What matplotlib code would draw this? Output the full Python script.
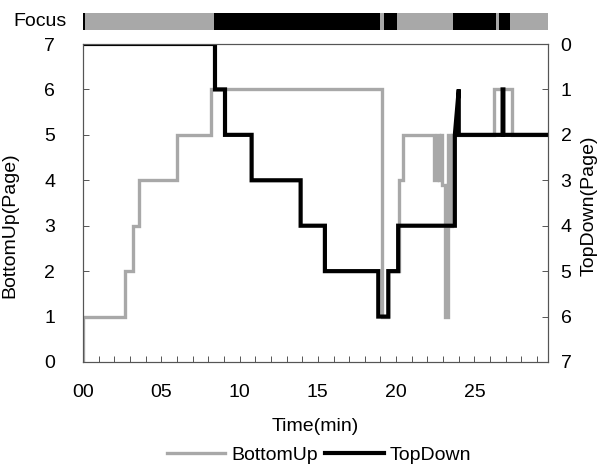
import matplotlib
matplotlib.use("Agg")
import matplotlib.pyplot as plt
from matplotlib.ticker import MultipleLocator, FuncFormatter

plt.rcParams['font.family'] = ['Liberation Sans', 'DejaVu Sans']

# ---- data ----
bu_time = [0, 0, 2.68, 2.68, 3.17, 3.17, 3.6, 3.6, 5.98, 5.98, 8.2, 8.2, 19.07, 19.07,
           19.45, 19.45, 20.2, 20.2, 20.45, 20.45, 22.45, 22.45, 22.6, 22.6, 22.75, 22.75,
           22.85, 22.85, 22.95, 22.95, 23.1, 23.1, 23.3, 23.3, 23.45, 23.45, 23.6, 23.6,
           26.25, 26.25, 27.4, 27.4, 29.7]
bu_page = [0, 1, 1, 2, 2, 3, 3, 4, 4, 5, 5, 6, 6, 1,
           1, 2, 2, 4, 4, 5, 5, 4, 4, 5, 5, 4,
           4, 5, 5, 3.9, 3.9, 1, 1, 5, 5, 3, 3, 5,
           5, 6, 6, 5, 5]

td_time = [0, 8.43, 8.43, 9.07, 9.07, 10.77, 10.77, 13.9, 13.9, 15.45, 15.45, 18.86,
           18.86, 19.5, 19.5, 20.13, 20.13, 23.75, 23.75, 24.0, 24.0, 26.8, 26.8, 26.85,
           26.85, 29.7]
td_page = [0, 0, 1, 1, 2, 2, 3, 3, 4, 4, 5, 5,
           6, 6, 5, 5, 4, 4, 2, 1, 2, 2, 1, 1,
           2, 2]

focus_start = [0, 0.15, 8.37, 18.97, 19.22, 20.07, 23.64, 26.4, 26.56, 27.27]
focus_end = [0.15, 8.37, 18.97, 19.22, 20.07, 23.64, 26.4, 26.56, 27.27, 29.7]
focus_on = [1, 0, 1, 0, 1, 0, 1, 0, 1, 0]

y_ticks = [0, 1, 2, 3, 4, 5, 6, 7]
x_major = [0, 5, 10, 15, 20, 25]

GRAY = '#a8a8a8'
FS = 14

fig = plt.figure(figsize=(6.02, 4.65), dpi=100)
L, R = 83 / 602, 548 / 602
B, T = 1 - 362 / 465, 1 - 44 / 465
ax = fig.add_axes([L, B, R - L, T - B])
ax2 = ax.twinx()

ax.plot(bu_time, bu_page, color=GRAY, lw=2.4, solid_joinstyle='miter', label='BottomUp')
ax2.plot(td_time, td_page, color='black', lw=3.0, solid_joinstyle='miter', label='TopDown')

ax.set_xlim(0, 29.7)
ax.set_ylim(0, 7)
ax2.set_ylim(7, 0)
ax.set_yticks(y_ticks)
ax2.set_yticks(y_ticks)
ax.set_xticks(x_major)
ax.xaxis.set_minor_locator(MultipleLocator(1))
ax.xaxis.set_major_formatter(FuncFormatter(lambda v, p: f"{int(round(v)):02d}"))

for a in (ax, ax2):
    for s in a.spines.values():
        s.set_color('#555555')
        s.set_linewidth(0.8)

ax.tick_params(axis='x', which='both', direction='in', length=4, width=0.7,
               color='#555555', labelsize=FS, pad=16)
ax.tick_params(axis='y', direction='in', length=4, width=0.7, color='#555555',
               labelsize=FS, pad=20)
ax2.tick_params(axis='y', direction='in', length=4, width=0.7, color='#555555',
                labelsize=FS, pad=9)

ax.set_xlabel('Time(min)', fontsize=FS)
ax.xaxis.set_label_coords(0.5, -0.175)
ax.set_ylabel('BottomUp(Page)', fontsize=FS)
ax.yaxis.set_label_coords(-0.14, 0.43)
ax2.set_ylabel('TopDown(Page)', fontsize=FS, rotation=90)
ax2.yaxis.set_label_coords(1.07, 0.49)

# focus bar
fax = fig.add_axes([L, 1 - 30 / 465, R - L, (30 - 13.3) / 465])
fax.set_xlim(0, 29.7)
fax.set_ylim(0, 1)
for s, e, on in zip(focus_start, focus_end, focus_on):
    fax.broken_barh([(s, e - s)], (0, 1), facecolors='black' if on else GRAY,
                    edgecolor='none')
fax.axis('off')
fig.text(13 / 602, 1 - 21.5 / 465, 'Focus', fontsize=FS, va='center', ha='left')

h1, l1 = ax.get_legend_handles_labels()
h2, l2 = ax2.get_legend_handles_labels()
fig.legend(h1 + h2, l1 + l2, loc='center', bbox_to_anchor=(319 / 602, 1 - 455 / 465),
           ncol=2, frameon=False, fontsize=FS, handlelength=3.0, handletextpad=0.3,
           columnspacing=0.4, borderpad=0, borderaxespad=0)

fig.savefig('out.png', dpi=100)
